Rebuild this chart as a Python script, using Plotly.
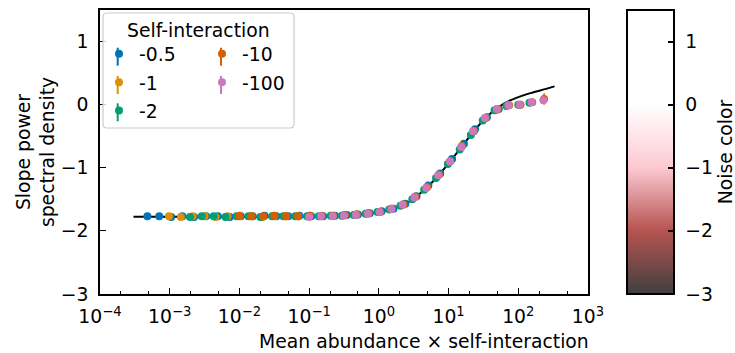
import plotly.graph_objects as go

# ---------------- data ----------------
series_names = ["-0.5", "-1", "-2", "-10", "-100"]
series_colors = ["#0173b2", "#de8f05", "#029e73", "#d55e00", "#cc78bc"]

# log10 of (mean abundance x self-interaction)
logx_m05 = [-3.32, -3.15, -2.98, -2.82, -2.65, -2.48, -2.31, -2.14, -1.98, -1.81, -1.64,
            -1.47, -1.30, -1.14, -0.97, -0.80, -0.63, -0.46, -0.30, -0.13, 0.04, 0.21,
            0.38, 0.54, 0.71, 0.88, 1.05, 1.22, 1.38, 1.55, 1.72]
y_m05 = [-1.77, -1.77, -1.78, -1.77, -1.78, -1.77, -1.77, -1.78, -1.77, -1.77, -1.76,
         -1.77, -1.77, -1.76, -1.77, -1.77, -1.76, -1.75, -1.74, -1.72, -1.69, -1.65,
         -1.57, -1.45, -1.28, -1.09, -0.86, -0.62, -0.39, -0.20, -0.07]
err_m05 = [0.01, 0.01, 0.01, 0.01, 0.01, 0.01, 0.01, 0.01, 0.01, 0.01, 0.01,
           0.01, 0.01, 0.01, 0.01, 0.01, 0.01, 0.01, 0.01, 0.01, 0.01, 0.01,
           0.01, 0.01, 0.01, 0.01, 0.01, 0.01, 0.02, 0.02, 0.02]

logx_m1 = [-3.01, -2.84, -2.67, -2.50, -2.34, -2.17, -2.00, -1.83, -1.67, -1.50, -1.33,
           -1.16, -0.99, -0.83, -0.66, -0.49, -0.32, -0.15, 0.01, 0.18, 0.35, 0.52,
           0.69, 0.86, 1.02, 1.19, 1.36, 1.53, 1.70, 1.87, 2.03]
y_m1 = [-1.77, -1.78, -1.77, -1.77, -1.78, -1.77, -1.77, -1.77, -1.78, -1.77, -1.77,
        -1.77, -1.76, -1.77, -1.76, -1.75, -1.74, -1.72, -1.70, -1.65, -1.58, -1.46,
        -1.31, -1.11, -0.90, -0.66, -0.42, -0.21, -0.08, -0.01, 0.00]
err_m1 = [0.01, 0.01, 0.01, 0.01, 0.01, 0.01, 0.01, 0.01, 0.01, 0.01, 0.01,
          0.01, 0.01, 0.01, 0.01, 0.01, 0.01, 0.01, 0.01, 0.01, 0.01, 0.01,
          0.01, 0.01, 0.01, 0.01, 0.02, 0.02, 0.02, 0.03, 0.03]

logx_m2 = [-2.71, -2.54, -2.37, -2.20, -2.04, -1.87, -1.70, -1.53, -1.37, -1.20, -1.03,
           -0.86, -0.69, -0.53, -0.36, -0.19, -0.02, 0.15, 0.31, 0.48, 0.65, 0.82,
           0.99, 1.16, 1.32, 1.49, 1.66, 1.83, 2.00, 2.16]
y_m2 = [-1.78, -1.77, -1.77, -1.78, -1.77, -1.77, -1.78, -1.77, -1.77, -1.77, -1.77,
        -1.77, -1.76, -1.76, -1.75, -1.73, -1.70, -1.66, -1.60, -1.50, -1.35, -1.16,
        -0.94, -0.71, -0.48, -0.25, -0.09, -0.02, 0.00, 0.03]
err_m2 = [0.01, 0.01, 0.01, 0.01, 0.01, 0.01, 0.01, 0.01, 0.01, 0.01, 0.01,
          0.01, 0.01, 0.01, 0.01, 0.01, 0.01, 0.01, 0.01, 0.01, 0.01, 0.01,
          0.01, 0.01, 0.02, 0.02, 0.02, 0.03, 0.03, 0.04]

logx_m10 = [-2.00, -1.83, -1.66, -1.50, -1.33, -1.16, -0.99, -0.82, -0.66, -0.49, -0.32,
            -0.15, 0.02, 0.18, 0.35, 0.52, 0.69, 0.86, 1.02, 1.19, 1.36, 1.53,
            1.70, 1.86, 2.03, 2.20, 2.37]
y_m10 = [-1.76, -1.77, -1.77, -1.76, -1.77, -1.77, -1.76, -1.76, -1.76, -1.75, -1.74,
         -1.72, -1.70, -1.65, -1.58, -1.46, -1.31, -1.11, -0.90, -0.66, -0.42, -0.21,
         -0.07, -0.01, 0.00, 0.04, 0.09]
err_m10 = [0.01, 0.01, 0.01, 0.01, 0.01, 0.01, 0.01, 0.01, 0.01, 0.01, 0.01,
           0.01, 0.01, 0.01, 0.01, 0.01, 0.01, 0.01, 0.01, 0.01, 0.02, 0.02,
           0.02, 0.03, 0.03, 0.05, 0.09]

logx_m100 = [-1.00, -0.83, -0.66, -0.50, -0.33, -0.16, 0.01, 0.18, 0.34, 0.51, 0.68,
             0.85, 1.02, 1.18, 1.35, 1.52, 1.69, 1.86, 2.02, 2.19, 2.36]
y_m100 = [-1.78, -1.77, -1.77, -1.76, -1.75, -1.73, -1.70, -1.655, -1.585, -1.47, -1.32,
          -1.12, -0.90, -0.67, -0.42, -0.21, -0.07, -0.01, 0.00, 0.04, 0.07]
err_m100 = [0.01, 0.01, 0.01, 0.01, 0.01, 0.01, 0.01, 0.01, 0.01, 0.01, 0.01,
            0.01, 0.01, 0.01, 0.02, 0.02, 0.02, 0.03, 0.03, 0.04, 0.06]

# theory curve
theory_logx = [-3.52, -2.0, -1.0, -0.6, -0.4, -0.2, 0.0, 0.2, 0.4, 0.6, 0.8, 1.0,
               1.2, 1.4, 1.6, 1.8, 2.0, 2.2, 2.4, 2.52]
theory_y = [-1.775, -1.775, -1.77, -1.76, -1.75, -1.73, -1.70, -1.65, -1.56, -1.40,
            -1.19, -0.93, -0.65, -0.37, -0.14, 0.02, 0.12, 0.19, 0.25, 0.29]

x_tickvals_exp = [-4, -3, -2, -1, 0, 1, 2, 3]
y_tickvals = [-3, -2, -1, 0, 1]
cbar_tickvals = [-3, -2, -1, 0, 1]
cbar_ticklabels = ["\u22123", "\u22122", "\u22121", "0", "1"]

all_logx = [logx_m05, logx_m1, logx_m2, logx_m10, logx_m100]
all_y = [y_m05, y_m1, y_m2, y_m10, y_m100]
all_err = [err_m05, err_m1, err_m2, err_m10, err_m100]

FONT = "DejaVu Sans"
FS = 18.8

# plot-area geometry helpers (pixels -> paper)
PL, PR, PT, PB = 100, 588, 10, 294
def px(x):
    return (x - PL) / (PR - PL)
def py(y):
    return (PB - y) / (PB - PT)

# ---------------- figure ----------------
fig = go.Figure()

fig.add_trace(go.Scatter(
    x=[10 ** v for v in theory_logx], y=theory_y, mode="lines",
    line=dict(color="black", width=2, shape="spline", smoothing=0.8),
    showlegend=False, hoverinfo="skip"))

legend_of = ["legend", "legend", "legend", "legend2", "legend2"]
for name, col, lx, yy, ee, lg in zip(series_names, series_colors, all_logx, all_y, all_err, legend_of):
    fig.add_trace(go.Scatter(
        x=[10 ** v for v in lx], y=yy, mode="markers", name=name,
        marker=dict(color=col, size=8, line=dict(width=0)),
        error_y=dict(type="data", array=ee, visible=True, color=col, thickness=1.5, width=0),
        legend=lg, legendgroup=name))

# dummy trace carrying the colour bar
noise_scale = [[0.0, "#404040"], [0.222, "#b5534f"], [0.444, "#fdc9d3"],
               [0.667, "#ffffff"], [1.0, "#ffffff"]]
fig.add_trace(go.Scatter(
    x=[None], y=[None], mode="markers", showlegend=False, hoverinfo="skip",
    marker=dict(color=[0], cmin=-3, cmax=1.5, colorscale=noise_scale, showscale=True,
                colorbar=dict(
                    x=px(627), xanchor="left", xref="paper",
                    y=0.5, yanchor="middle", len=1.0, lenmode="fraction",
                    thickness=47, thicknessmode="pixels", xpad=0, ypad=0,
                    outlinewidth=2, outlinecolor="black",
                    ticks="inside", ticklen=7, tickwidth=2, tickcolor="black",
                    tickvals=cbar_tickvals,
                    ticktext=["\u00a0" + t for t in cbar_ticklabels],
                    tickfont=dict(family=FONT, size=FS, color="black"),
                    title=dict(text="Noise color", side="right",
                               font=dict(family=FONT, size=FS, color="black"))))))

fig.update_xaxes(
    type="log", range=[-4, 3],
    tickvals=[10 ** e for e in x_tickvals_exp],
    ticktext=["10<sup>%s</sup>" % (str(e).replace("-", "\u2212")) for e in x_tickvals_exp],
    ticks="inside", ticklen=6, tickwidth=1.3, tickcolor="black",
    minor=dict(ticks="inside", ticklen=3, tickwidth=1, tickcolor="black", showgrid=False),
    showline=True, linecolor="black", linewidth=1.8, mirror=True,
    showgrid=False, zeroline=False, ticklabelstandoff=5,
    tickfont=dict(family=FONT, size=FS, color="black"))

fig.update_yaxes(
    range=[-3, 1.5], tickvals=y_tickvals,
    ticks="inside", ticklen=6, tickwidth=1.3, tickcolor="black",
    showline=True, linecolor="black", linewidth=1.8, mirror=True,
    showgrid=False, zeroline=False, ticklabelstandoff=6,
    tickfont=dict(family=FONT, size=FS, color="black"),
    title=dict(text="Slope power<br>spectral density", standoff=1,
               font=dict(family=FONT, size=FS, color="black")))

# legend frame (rounded)
x0, x1 = px(103), px(294)
y0, y1 = py(128), py(13)
rx, ry = 4 / (PR - PL), 4 / (PB - PT)
path = (f"M {x0+rx},{y0} L {x1-rx},{y0} Q {x1},{y0} {x1},{y0+ry} L {x1},{y1-ry} "
        f"Q {x1},{y1} {x1-rx},{y1} L {x0+rx},{y1} Q {x0},{y1} {x0},{y1-ry} "
        f"L {x0},{y0+ry} Q {x0},{y0} {x0+rx},{y0} Z")
fig.add_shape(type="path", path=path, xref="paper", yref="paper", layer="above",
              fillcolor="rgba(255,255,255,0.8)", line=dict(color="#cccccc", width=1.2))

# little error-bar strokes behind the legend dots
leg_marker_pos = [(117.7, 56.7), (117.7, 85.0), (117.7, 112.3), (221.0, 56.7), (221.0, 85.0)]
for (mx, my), col in zip(leg_marker_pos, series_colors):
    fig.add_shape(type="line", xref="paper", yref="paper", layer="above",
                  x0=px(mx), x1=px(mx), y0=py(my - 9), y1=py(my + 9),
                  line=dict(color=col, width=2))

leg_common = dict(xref="paper", yref="paper", xanchor="left", yanchor="top",
                  bgcolor="rgba(0,0,0,0)", borderwidth=0, tracegroupgap=1,
                  font=dict(family=FONT, size=FS, color="black"), itemwidth=30)
fig.update_layout(
    legend=dict(x=px(99), y=py(35), **leg_common),
    legend2=dict(x=px(202), y=py(35), **leg_common),
)

fig.add_annotation(text="Self-interaction", xref="paper", yref="paper",
                   x=px(198), y=py(30), xanchor="center", yanchor="middle",
                   showarrow=False, font=dict(family=FONT, size=FS, color="black"))
fig.add_annotation(text="Mean abundance \u00d7 self-interaction", xref="paper", yref="paper",
                   x=px(591), y=py(341), xanchor="right", yanchor="middle",
                   showarrow=False, font=dict(family=FONT, size=FS, color="black"))

fig.update_layout(
    width=735, height=353,
    margin=dict(l=PL, r=735 - PR, t=PT, b=353 - PB, autoexpand=False),
    paper_bgcolor="white", plot_bgcolor="white",
    font=dict(family=FONT, size=FS, color="black"),
)

fig.write_html("out.html")
